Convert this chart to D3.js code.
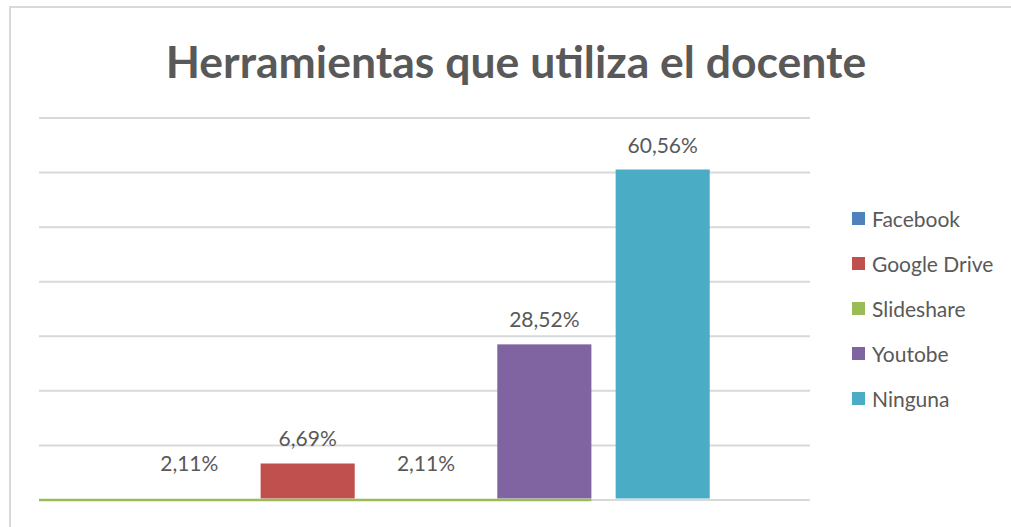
<!DOCTYPE html>
<html>
<head>
<meta charset="utf-8">
<script src="https://cdn.jsdelivr.net/npm/d3@7"></script>
<style>
  body { margin: 0; background: #fff; overflow: hidden; }
  svg { display: block; }
  svg text { font-family: Lato, "Open Sans", sans-serif; fill: #595959; }
</style>
</head>
<body>
<div id="container"></div>
<script>
// Chart data
const series = ['Facebook', 'Google Drive', 'Slideshare', 'Youtobe', 'Ninguna'];
const values = [2.11, 6.69, 2.11, 28.52, 60.56];
const labels = ['2,11%', '6,69%', '2,11%', '28,52%', '60,56%'];
const colors = ['#4F81BD', '#C0504D', '#9BBB59', '#8064A2', '#4BACC6'];
// bars drawn with no fill in the original
const hidden = ['Facebook', 'Slideshare'];
const yTicks = [0, 10, 20, 30, 40, 50, 60, 70];

const width = 1011;
const height = 527;

const plot = { left: 39, right: 810, top: 118, bottom: 500 };

const svg = d3.select('#container').append('svg')
    .attr('width', width)
    .attr('height', height);

// chart border: only the top and left edges fall inside the picture
svg.append('path')
    .attr('d', 'M10,' + height + 'V7H' + width)
    .attr('fill', 'none')
    .attr('stroke', '#D9D9D9')
    .attr('stroke-width', 2);

// Title
svg.append('text')
    .attr('x', 516)
    .attr('y', 78)
    .attr('text-anchor', 'middle')
    .attr('font-size', 44.5)
    .attr('font-weight', 'bold')
    .text('Herramientas que utiliza el docente');

const yScale = d3.scaleLinear()
    .domain([0, 70])
    .range([plot.bottom, plot.top]);

const xScale = d3.scaleBand()
    .domain(series)
    .range([plot.left + 1.5, plot.right + 1.5])
    .paddingInner(0.205)
    .paddingOuter(0.86);

// gridlines
svg.append('g')
    .selectAll('line')
    .data(yTicks)
    .enter()
    .append('line')
    .attr('x1', plot.left)
    .attr('x2', plot.right)
    .attr('y1', d => yScale(d))
    .attr('y2', d => yScale(d))
    .attr('stroke', '#D9D9D9')
    .attr('stroke-width', 2);

// bars
svg.append('g')
    .selectAll('rect')
    .data(series)
    .enter()
    .append('rect')
    .attr('x', d => xScale(d))
    .attr('y', (d, i) => yScale(values[i]))
    .attr('width', xScale.bandwidth())
    .attr('height', (d, i) => yScale(0) - yScale(values[i]) - 1.5)
    .attr('fill', (d, i) => hidden.includes(d) ? 'none' : colors[i]);

// green baseline stroke seen in the original
svg.append('line')
    .attr('x1', plot.left)
    .attr('x2', xScale('Youtobe') + xScale.bandwidth())
    .attr('y1', yScale(0))
    .attr('y2', yScale(0))
    .attr('stroke', colors[2])
    .attr('stroke-width', 2.5);

// data labels
svg.append('g')
    .selectAll('text')
    .data(series)
    .enter()
    .append('text')
    .attr('x', d => xScale(d) + xScale.bandwidth() / 2)
    .attr('y', (d, i) => yScale(values[i]) - 17)
    .attr('text-anchor', 'middle')
    .attr('font-size', 21)
    .text((d, i) => labels[i]);

// legend
const legend = svg.append('g')
    .selectAll('g')
    .data(series)
    .enter()
    .append('g')
    .attr('transform', (d, i) => 'translate(852,' + (219 + i * 45) + ')');

legend.append('rect')
    .attr('x', 0).attr('y', -7)
    .attr('width', 13).attr('height', 13)
    .attr('fill', (d, i) => colors[i]);

legend.append('text')
    .attr('x', 20)
    .attr('y', 7.5)
    .attr('font-size', 21)
    .text(d => d);
</script>
</body>
</html>
